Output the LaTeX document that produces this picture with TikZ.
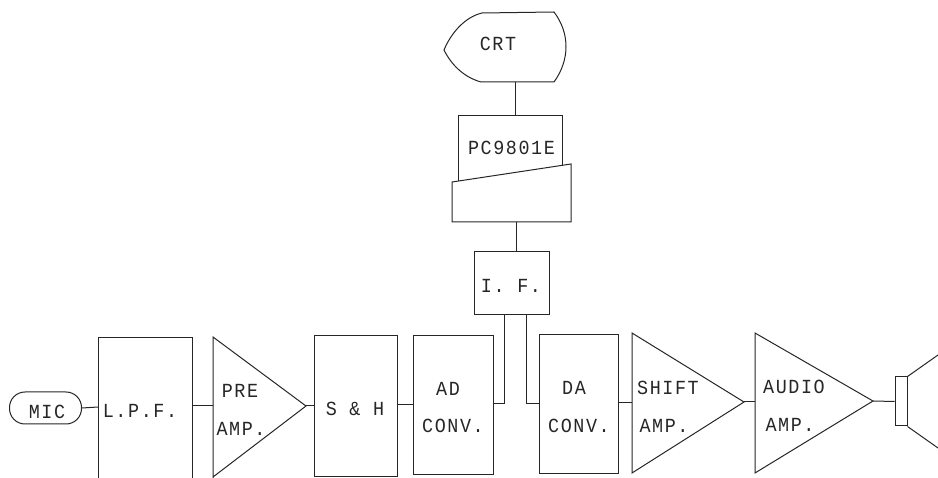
\documentclass[tikz,border=0pt]{standalone}
\usepackage{fontspec}
\setmainfont[FakeStretch=0.92,LetterSpace=8]{Liberation Mono}
\usetikzlibrary{calc}
\tikzset{
  unit/.style={draw,inner sep=0pt},
  outline/.style={line width=1pt},
  wire/.style={draw,line width=1pt},
  lbl/.style={inner sep=0pt,font=\fontsize{20}{22}\selectfont},
}
\begin{document}
\begin{tikzpicture}[x=1pt,y=-1pt,line width=1pt,color=black!85]
  \useasboundingbox (0,0) rectangle (938,478);
  % top part
  \draw[outline] (482,13) .. controls (465,17) and (451,33) .. (444,50) .. controls (451,64) and (463,77) .. (481,82) -- (554,82) .. controls (570,60) and (570,33) .. (554,12) -- cycle;
  \node[lbl] (crt) at (498,44) {CRT};
  \draw[outline] (458,181) -- (458,116) -- (562,116) -- (562,165);
  \node[lbl] (pc) at (511.5,148) {PC9801E};
  \draw[outline] (452,182) -- (571,164) -- (571,222) -- (452,222) -- cycle;
  \coordinate (crtb) at (515,82);
  \coordinate (pct) at (515,116);
  \draw[wire] (crtb) -- (pct);
  \node[unit,minimum width=75pt,minimum height=63pt] (if) at (511.5,283.5) {};
  \node[lbl] (iflbl) at (511,286) {I. F.};
  \coordinate (pcb) at (516,222);
  \draw[wire] (pcb) -- (pcb |- if.north);
  % bottom row
  \node[draw,inner sep=0pt,rounded corners=15.5pt,minimum width=72pt,minimum height=32pt] (mic) at (45.5,408) {};
  \node[lbl] (miclbl) at (47,412) {MIC};
  \draw[outline] (98,478) -- (98,338) -- (192,338) -- (192,478);
  \node[lbl] (lpf) at (140,411) {L.P.F.};
  \coordinate (lpfw) at (98,407);
  \coordinate (lpfe) at (192,406);
  \draw[outline] (213,478) -- (213,337) -- (306,406) -- (213,477);
  \coordinate (prew) at (213,406);
  \coordinate (pree) at (306,406);
  \node[lbl] (pre) at (240,391) {PRE};
  \node[lbl] (preamp) at (241,429) {AMP.};
  \node[unit,minimum width=83pt,minimum height=141pt] (sh) at (355.5,406.5) {};
  \node[lbl] (shlbl) at (355,409) {S \& H};
  \node[unit,minimum width=80pt,minimum height=139pt] (ad) at (453,405.5) {};
  \node[lbl] (adl) at (448,389) {AD};
  \node[lbl] (adc) at (453,426) {CONV.};
  \node[unit,minimum width=79pt,minimum height=139pt] (da) at (579,404.5) {};
  \node[lbl] (dal) at (574,388) {DA};
  \node[lbl] (dac) at (579,426) {CONV.};
  \draw[outline] (632,473) -- (632,333) -- (744,402) -- cycle;
  \node[lbl] (shift) at (668,388) {SHIFT};
  \node[lbl] (shamp) at (664,426) {AMP.};
  \draw[outline] (755,473) -- (755,333) -- (873,401) -- cycle;
  \node[lbl] (audio) at (794,387) {AUDIO};
  \node[lbl] (auamp) at (790,425) {AMP.};
  \node[unit,minimum width=12pt,minimum height=49pt] (spk) at (901,401.5) {};
  \draw[outline] (spk.north east) -- (938,355);
  \draw[outline] (spk.south east) -- (938,448);
  % connectors
  \draw[wire] (mic.east) -- (lpfw);
  \draw[wire] (lpfe) -- (prew);
  \draw[wire] (pree) -- (sh.west |- pree);
  \draw[wire] (sh.east |- 0,405) -- (ad.west |- 0,405);
  \draw[wire] ($(if.south)+(-7,0)$) |- (ad.east |- 0,404);
  \draw[wire] ($(if.south)+(14.5,0)$) |- (da.west |- 0,404);
  \draw[wire] (da.east |- 0,403) -- (632,403);
  \draw[wire] (744,402) -- (755,402);
  \draw[wire] (873,401) -- (spk.west);
\end{tikzpicture}
\end{document}
